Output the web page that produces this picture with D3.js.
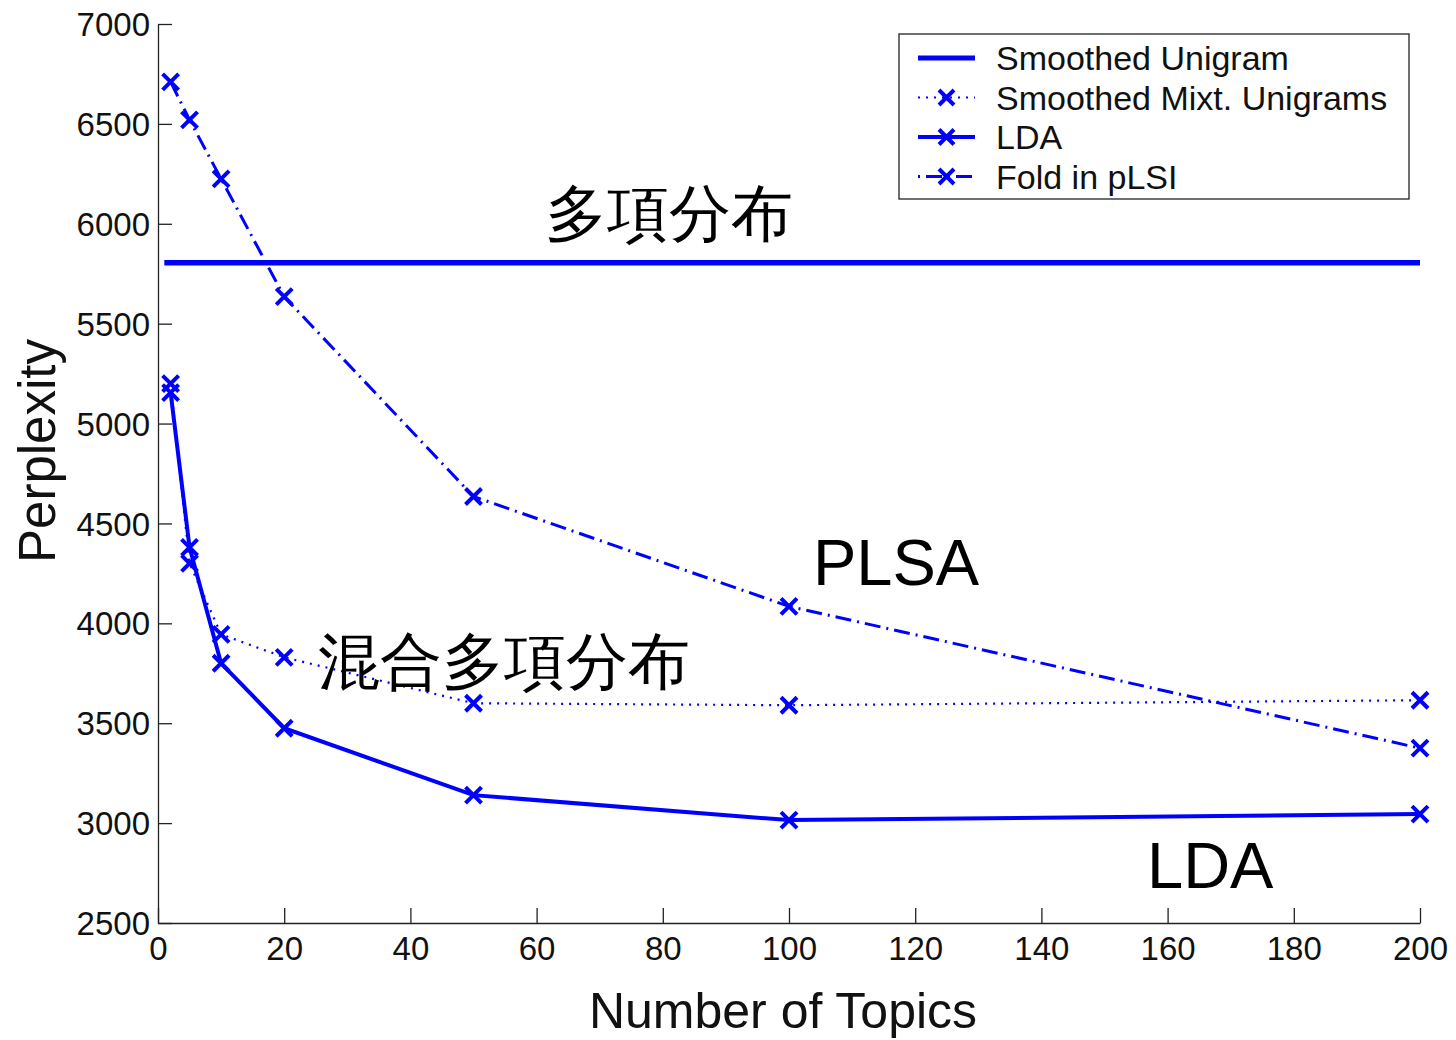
<!DOCTYPE html>
<html><head><meta charset="utf-8">
<script src="https://cdn.jsdelivr.net/npm/d3@7"></script>
<style>
body{margin:0;background:#fff;}
text{font-family:Arial,"Liberation Sans",sans-serif;}
</style></head>
<body>
<svg id="c" width="1456" height="1040"></svg>
<script>
const topics = [2, 5, 10, 20, 50, 100, 200];
const mixtUnigrams = [5200, 4300, 3945, 3830, 3600, 3590, 3615];
const lda = [5155, 4380, 3800, 3475, 3140, 3015, 3045];
const plsi = [6710, 6520, 6225, 5635, 4635, 4085, 3375];
const unigramX = [1, 200];
const unigramY = [5805, 5805];
const xTicks = [0, 20, 40, 60, 80, 100, 120, 140, 160, 180, 200];
const yTicks = [2500, 3000, 3500, 4000, 4500, 5000, 5500, 6000, 6500, 7000];
const legendLabels = ["Smoothed Unigram", "Smoothed Mixt. Unigrams", "LDA", "Fold in pLSI"];

const svg = d3.select("#c");
const x = d3.scaleLinear().domain([0, 200]).range([158, 1420]);
const y = d3.scaleLinear().domain([2500, 7000]).range([923, 24]);
const blue = "#0000ff";

// axes
const xAxis = d3.axisBottom(x).tickValues(xTicks).tickFormat(d3.format("d")).tickSizeInner(-15).tickSizeOuter(0).tickPadding(25);
const yAxis = d3.axisLeft(y).tickValues(yTicks).tickFormat(d3.format("d")).tickSizeInner(-14).tickSizeOuter(0).tickPadding(22);
const gx = svg.append("g").attr("transform", "translate(0,923)").call(xAxis);
const gy = svg.append("g").attr("transform", "translate(158,0)").call(yAxis);
[gx, gy].forEach(g => {
  g.select(".domain").attr("stroke", "#222").attr("stroke-width", 1.3);
  g.selectAll(".tick line").attr("stroke", "#222").attr("stroke-width", 1.3);
  g.selectAll(".tick text").attr("font-size", 33).attr("fill", "#111")
   .attr("font-family", "Arial, 'Liberation Sans', sans-serif");
});
gy.selectAll(".tick text").attr("dx", 14).attr("dy", "0.35em");
gx.selectAll(".tick text").attr("dy", "0.35em");

svg.append("text").attr("x", 783).attr("y", 1028).attr("text-anchor", "middle")
  .attr("font-size", 50).attr("fill", "#111").text("Number of Topics");
svg.append("text").attr("transform", "translate(55,451) rotate(-90)").attr("text-anchor", "middle")
  .attr("font-size", 51).attr("fill", "#111").text("Perplexity");

const line = d3.line().x(d => x(d[0])).y(d => y(d[1]));

// Smoothed unigram
svg.append("path").datum(unigramX.map((v, i) => [v, unigramY[i]]))
  .attr("d", line).attr("fill", "none").attr("stroke", blue).attr("stroke-width", 5.5);

function series(vals, width, dash) {
  const pts = topics.map((t, i) => [t, vals[i]]);
  svg.append("path").datum(pts).attr("d", line).attr("fill", "none")
    .attr("stroke", blue).attr("stroke-width", width).attr("stroke-dasharray", dash);
  svg.append("g").selectAll("path").data(pts).join("path")
    .attr("d", d => { const cx = x(d[0]), cy = y(d[1]), s = 8;
      return `M${cx-s},${cy-s}L${cx+s},${cy+s}M${cx-s},${cy+s}L${cx+s},${cy-s}`; })
    .attr("stroke", blue).attr("stroke-width", 4).attr("fill", "none");
}
series(mixtUnigrams, 2.2, "2,6");
series(plsi, 3, "16,6,2,6");
series(lda, 4, null);

// Legend
svg.append("rect").attr("x", 899).attr("y", 34).attr("width", 510).attr("height", 165)
  .attr("fill", "#fff").attr("stroke", "#222").attr("stroke-width", 1.3);
const legStyles = [
  {w: 5, dash: null, mark: false},
  {w: 2.2, dash: "2,6", mark: true},
  {w: 4, dash: null, mark: true},
  {w: 3, dash: "16,6,2,6", mark: true}
];
legendLabels.forEach((lab, i) => {
  const cy = 58 + i * 39.5;
  const st = legStyles[i];
  let path = svg.append("line").attr("x1", 918).attr("x2", 975).attr("y1", cy).attr("y2", cy)
    .attr("stroke", blue).attr("stroke-width", st.w);
  if (i === 3) path.attr("stroke-dasharray", "2,6,16,6").attr("stroke-dashoffset", 0);
  else if (st.dash) path.attr("stroke-dasharray", st.dash);
  if (st.mark) {
    const cx = 946.5, s = 7.5;
    svg.append("path").attr("d", `M${cx-s},${cy-s}L${cx+s},${cy+s}M${cx-s},${cy+s}L${cx+s},${cy-s}`)
      .attr("stroke", blue).attr("stroke-width", 4).attr("fill", "none");
  }
  svg.append("text").attr("x", 996).attr("y", cy + 12).attr("font-size", 34).attr("fill", "#111").text(lab);
});

// Annotations
const cjk = "'Noto Sans CJK JP', 'Noto Sans CJK SC', sans-serif";
svg.append("text").attr("x", 545).attr("y", 235).attr("font-size", 62).attr("font-family", cjk)
  .attr("font-weight", 500).attr("fill", "#000").text("多項分布");
svg.append("text").attr("x", 318).attr("y", 683).attr("font-size", 62).attr("font-family", cjk)
  .attr("font-weight", 500).attr("fill", "#000").text("混合多項分布");
svg.append("text").attr("x", 813).attr("y", 585).attr("font-size", 65).attr("fill", "#000").text("PLSA");
svg.append("text").attr("x", 1147).attr("y", 888).attr("font-size", 65).attr("fill", "#000").text("LDA");
</script>
</body></html>
